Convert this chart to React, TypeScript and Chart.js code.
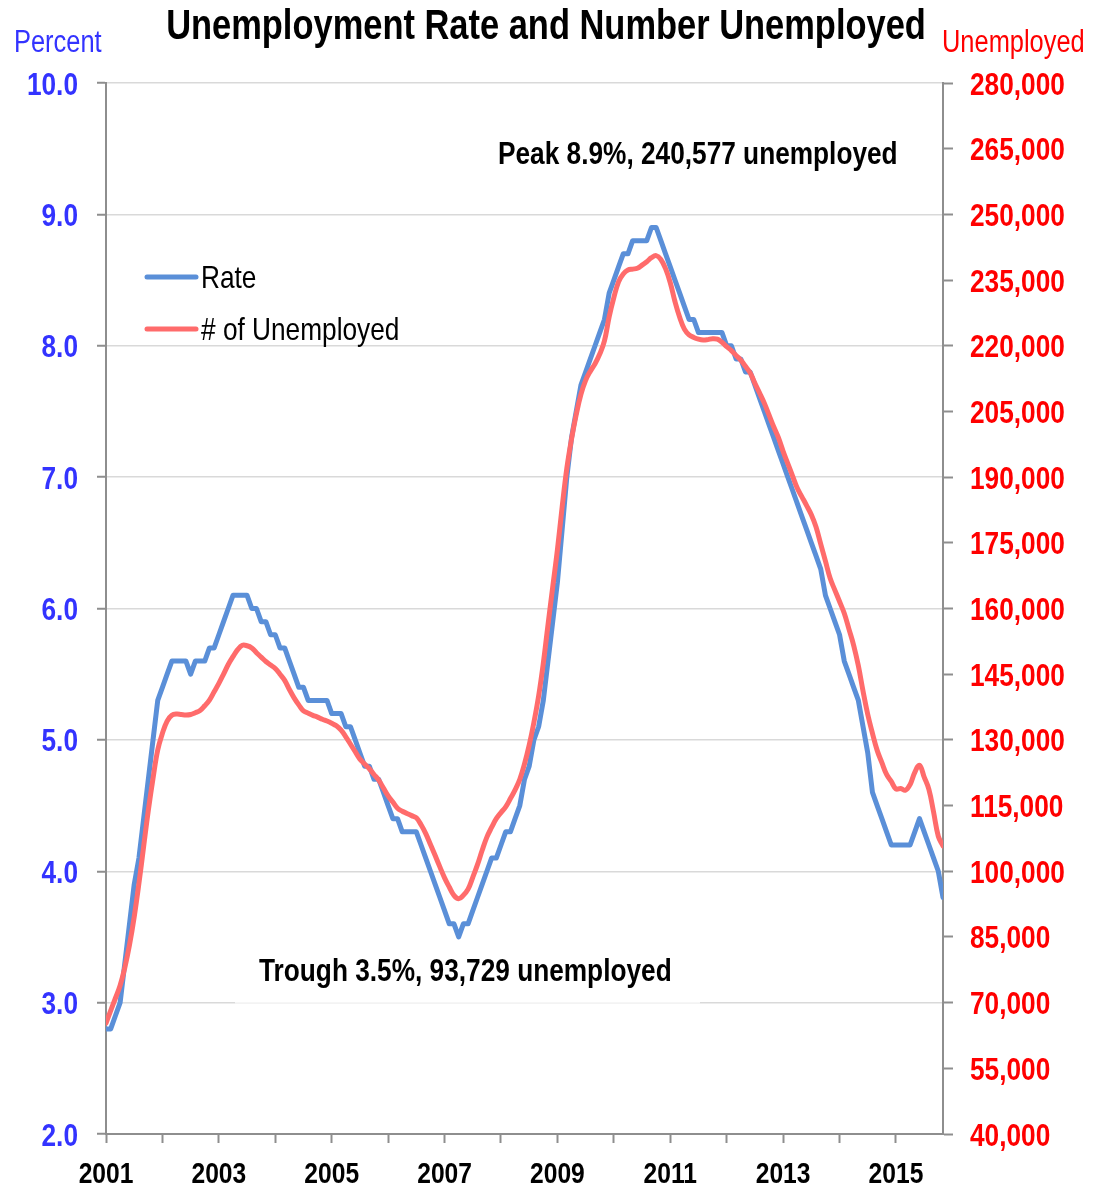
import React, { useEffect, useRef } from "react";
import { Chart, registerables } from "chart.js";

Chart.register(...registerables);

// ---------- data ----------
const startYear = 2001;
const yearTicks = [2001, 2002, 2003, 2004, 2005, 2006, 2007, 2008, 2009, 2010, 2011, 2012, 2013, 2014, 2015];
const yearLabels = ["2001", "2003", "2005", "2007", "2009", "2011", "2013", "2015"];

// monthly unemployment rate (percent), Jan 2001 .. Nov 2015
const rate = [
  2.8, 2.8, 2.9, 3.0, 3.3, 3.6, 3.9, 4.1, 4.4, 4.7, 5.0, 5.3,
  5.4, 5.5, 5.6, 5.6, 5.6, 5.6, 5.5, 5.6, 5.6, 5.6, 5.7, 5.7,
  5.8, 5.9, 6.0, 6.1, 6.1, 6.1, 6.1, 6.0, 6.0, 5.9, 5.9, 5.8,
  5.8, 5.7, 5.7, 5.6, 5.5, 5.4, 5.4, 5.3, 5.3, 5.3, 5.3, 5.3,
  5.2, 5.2, 5.2, 5.1, 5.1, 5.0, 4.9, 4.8, 4.8, 4.7, 4.7, 4.6,
  4.5, 4.4, 4.4, 4.3, 4.3, 4.3, 4.3, 4.2, 4.1, 4.0, 3.9, 3.8,
  3.7, 3.6, 3.6, 3.5, 3.6, 3.6, 3.7, 3.8, 3.9, 4.0, 4.1, 4.1,
  4.2, 4.3, 4.3, 4.4, 4.5, 4.7, 4.8, 5.0, 5.1, 5.3, 5.6, 5.9,
  6.2, 6.6, 7.0, 7.3, 7.5, 7.7, 7.8, 7.9, 8.0, 8.1, 8.2, 8.4,
  8.5, 8.6, 8.7, 8.7, 8.8, 8.8, 8.8, 8.8, 8.9, 8.9, 8.8, 8.7,
  8.6, 8.5, 8.4, 8.3, 8.2, 8.2, 8.1, 8.1, 8.1, 8.1, 8.1, 8.1,
  8.0, 8.0, 7.9, 7.9, 7.8, 7.8, 7.7, 7.6, 7.5, 7.4, 7.3, 7.2,
  7.1, 7.0, 6.9, 6.8, 6.7, 6.6, 6.5, 6.4, 6.3, 6.1, 6.0, 5.9,
  5.8, 5.6, 5.5, 5.4, 5.3, 5.1, 4.9, 4.6, 4.5, 4.4, 4.3, 4.2,
  4.2, 4.2, 4.2, 4.2, 4.3, 4.4, 4.3, 4.2, 4.1, 4.0, 3.8,
];

// monthly number unemployed, Jan 2001 .. Nov 2015
const unemployed = [
  65300, 68200, 71000, 73900, 78000, 83200, 89600, 97200, 105600, 113900, 121200, 127700,
  131500, 134300, 135600, 135900, 135800, 135700, 135800, 136200, 136700, 137800, 139100, 141000,
  142900, 145000, 147200, 149000, 150600, 151600, 151500, 151000, 149900, 148900, 147900, 147100,
  146300, 145000, 143600, 141500, 139600, 138000, 136600, 136100, 135600, 135200, 134700, 134300,
  133800, 133200, 132200, 130700, 129000, 127300, 125600, 124500, 123400, 122100, 120800, 119000,
  117200, 115800, 114400, 113700, 113200, 112700, 112200, 110600, 108600, 106100, 103600, 101000,
  98500, 96400, 94500, 93729, 94500, 95900, 98600, 101500, 104800, 107800, 110000, 112000,
  113400, 114700, 116600, 118600, 121000, 124500, 128800, 134000, 140000, 147500, 156300, 164900,
  173400, 183100, 192000, 198700, 204300, 208900, 212100, 214200, 215900, 218100, 221100, 226600,
  231000, 234600, 236400, 237300, 237500, 237700, 238400, 239200, 240100, 240577, 239700, 237600,
  234400, 230100, 226500, 223800, 222500, 221900, 221500, 221300, 221400, 221600, 221500, 220800,
  219800, 218900, 217800, 216700, 215300, 213800, 211400, 209200, 206900, 204200, 201500, 199000,
  195900, 193100, 190300, 187500, 185500, 183500, 181400, 178600, 174700, 170800, 166900, 164200,
  161600, 158900, 155300, 151600, 146900, 141100, 135800, 131500, 127600, 124800, 122100, 120500,
  118800, 118900, 118500, 119800, 122600, 124200, 121500, 118700, 113500, 108000, 105800,
];

const titleText = "Unemployment Rate and Number Unemployed";
const leftAxisTitle = "Percent";
const rightAxisTitle = "Unemployed";
const peakNote = "Peak 8.9%, 240,577 unemployed";
const troughNote = "Trough 3.5%, 93,729 unemployed";
const seriesNames = ["Rate", "# of Unemployed"];

// ---------- styles ----------
const W = 1107;
const H = 1187;
const FAM = '"Liberation Sans", Arial, sans-serif';
const SX = 0.82; // horizontal condensing, narrow-font look
const BLUE = "#5a8fd8";
const RED = "#ff6b6b";
const BLUE_TXT = "#3333ff";
const RED_TXT = "#ff0000";
const AXIS = "#8e8e8e";
const GRID = "#d9d9d9";

const xLabel = (v: number) => {
  const s = String(Math.round(v));
  return yearLabels.includes(s) ? s : "";
};
const leftLabel = (v: number) => v.toFixed(1);
const rightLabel = (v: number) => Math.round(v).toLocaleString("en-US");

function drawText(
  ctx: CanvasRenderingContext2D,
  text: string,
  x: number,
  y: number,
  size: number,
  bold: boolean,
  color: string,
  align: CanvasTextAlign
) {
  ctx.save();
  ctx.font = `${bold ? "bold " : ""}${size}px ${FAM}`;
  ctx.fillStyle = color;
  ctx.textBaseline = "alphabetic";
  ctx.textAlign = align;
  ctx.translate(x, y);
  ctx.scale(SX, 1);
  ctx.fillText(text, 0, 0);
  ctx.restore();
}

const textPlugin = {
  id: "textPlugin",
  beforeDatasetsDraw(chart: any) {
    const ctx = chart.ctx;
    ctx.save();
    ctx.fillStyle = "rgba(255,255,255,0.75)";
    ctx.fillRect(235, 940, 465, 63.5);
    ctx.restore();
  },
  afterDraw(chart: any) {
    const ctx = chart.ctx as CanvasRenderingContext2D;
    const { x, y, y2 } = chart.scales;

    // tick labels, placed from the library's scales
    x.ticks.forEach((t: any) => {
      const s = xLabel(t.value);
      if (s) drawText(ctx, s, x.getPixelForValue(t.value), 1183, 30, true, "#000", "center");
    });
    y.ticks.forEach((t: any) => {
      drawText(ctx, leftLabel(t.value), 78, y.getPixelForValue(t.value) + 11.5, 32, true, BLUE_TXT, "right");
    });
    y2.ticks.forEach((t: any) => {
      drawText(ctx, rightLabel(t.value), 970, y2.getPixelForValue(t.value) + 11.5, 32, true, RED_TXT, "left");
    });

    drawText(ctx, titleText, 546, 39, 42, true, "#000", "center");
    drawText(ctx, leftAxisTitle, 14, 52, 31, false, BLUE_TXT, "left");
    drawText(ctx, rightAxisTitle, 942, 52, 31, false, RED_TXT, "left");
    drawText(ctx, peakNote, 498, 164, 32, true, "#000", "left");
    drawText(ctx, troughNote, 259, 981, 32, true, "#000", "left");

    // legend
    const items = [
      { name: seriesNames[0], color: BLUE, y: 277 },
      { name: seriesNames[1], color: RED, y: 329 },
    ];
    items.forEach((it) => {
      ctx.save();
      ctx.strokeStyle = it.color;
      ctx.lineWidth = 5;
      ctx.lineCap = "round";
      ctx.beginPath();
      ctx.moveTo(147, it.y);
      ctx.lineTo(196, it.y);
      ctx.stroke();
      ctx.restore();
      drawText(ctx, it.name, 201, it.y + 11, 32, false, "#000", "left");
    });
  },
};

export default function App() {
  const ref = useRef<HTMLCanvasElement | null>(null);

  useEffect(() => {
    document.body.style.margin = "0";
    const canvas = ref.current;
    if (!canvas) return;
    const chart = new Chart(canvas, {
      type: "line",
      data: {
        datasets: [
          {
            label: seriesNames[1],
            data: unemployed.map((v, i) => ({ x: startYear + i / 12, y: v })),
            yAxisID: "y2",
            borderColor: RED,
            backgroundColor: RED,
            borderWidth: 5,
            tension: 0.4,
            pointRadius: 0,
            borderCapStyle: "round",
            borderJoinStyle: "round",
            order: 0,
          },
          {
            label: seriesNames[0],
            data: rate.map((v, i) => ({ x: startYear + i / 12, y: v })),
            yAxisID: "y",
            borderColor: BLUE,
            backgroundColor: BLUE,
            borderWidth: 5,
            tension: 0,
            pointRadius: 0,
            borderCapStyle: "round",
            borderJoinStyle: "round",
            order: 1,
          },
        ],
      },
      options: {
        animation: false,
        responsive: false,
        devicePixelRatio: 1,
        layout: { padding: { top: 83, left: 0, right: 0, bottom: 0 } },
        plugins: {
          legend: { display: false },
          title: { display: false },
          tooltip: { enabled: false },
        },
        scales: {
          x: {
            type: "linear",
            min: startYear,
            max: startYear + (rate.length - 1) / 12,
            afterBuildTicks: (s: any) => {
              s.ticks = yearTicks.map((v) => ({ value: v }));
            },
            afterFit: (s: any) => {
              s.height = H - 1134;
            },
            ticks: { display: false, autoSkip: false, maxRotation: 0, minRotation: 0 },
            grid: {
              drawOnChartArea: false,
              drawTicks: true,
              tickLength: 9,
              tickColor: AXIS,
              tickWidth: 2,
            },
            border: { color: AXIS, width: 2 },
          },
          y: {
            position: "left",
            min: 2,
            max: 10,
            afterFit: (s: any) => {
              s.width = 106;
            },
            ticks: { display: false, stepSize: 1 },
            grid: {
              color: GRID,
              lineWidth: 1.5,
              tickLength: 9,
              tickColor: AXIS,
              tickWidth: 2,
            },
            border: { color: AXIS, width: 2 },
          },
          y2: {
            position: "right",
            min: 40000,
            max: 280000,
            afterFit: (s: any) => {
              s.width = W - 943;
            },
            ticks: { display: false, stepSize: 15000 },
            grid: {
              drawOnChartArea: false,
              tickLength: 10,
              tickColor: AXIS,
              tickWidth: 2,
            },
            border: { color: AXIS, width: 2 },
          },
        },
      },
      plugins: [textPlugin],
    } as any);
    return () => chart.destroy();
  }, []);

  return (
    <div style={{ position: "fixed", left: 0, top: 0, width: W, height: H, background: "#fff" }}>
      <canvas ref={ref} width={W} height={H} style={{ width: W, height: H, display: "block" }} />
    </div>
  );
}
